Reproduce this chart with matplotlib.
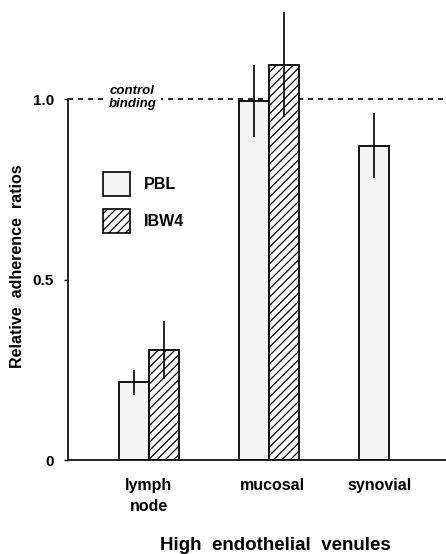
import matplotlib.pyplot as plt
from matplotlib.patches import Patch

groups = ['lymph\nnode', 'mucosal', 'synovial']
pbl = [0.215, 0.995, 0.87]
pbl_err = [0.035, 0.10, 0.09]
ibw4 = [0.305, 1.095]
ibw4_err = [0.08, 0.145]

plt.rcParams['font.family'] = ['Liberation Sans', 'DejaVu Sans']
plt.rcParams['hatch.linewidth'] = 0.9

fig = plt.figure(figsize=(4.46, 5.54), dpi=100)
ax = fig.add_axes([68 / 446, 94 / 554, 378 / 446, 458 / 554])

centers = [0, 4, 7.5]
w = 1.0
pbl_x = [c - w / 2 if i < len(ibw4) else c for i, c in enumerate(centers)]
ibw4_x = [c + w / 2 for c in centers[:len(ibw4)]]

ax.bar(pbl_x, pbl, width=w, color='#f4f4f4', edgecolor='black', linewidth=1.3, zorder=2)
ax.bar(ibw4_x, ibw4, width=w, color='white', edgecolor='black', linewidth=1.3,
       hatch='////', zorder=2)
ax.errorbar(pbl_x, pbl, yerr=pbl_err, fmt='none', ecolor='black', elinewidth=1.2,
            capsize=0, zorder=3)
ax.errorbar(ibw4_x, ibw4, yerr=ibw4_err, fmt='none', ecolor='black', elinewidth=1.2,
            capsize=0, zorder=3)

ax.axhline(1.0, color='black', linestyle=(0, (3, 3)), linewidth=1.2, zorder=1)
ax.text(-0.55, 1.004, 'control\nbinding', ha='center', va='center', fontsize=9.5,
        fontstyle='italic', fontweight='bold', linespacing=1.15, zorder=4,
        bbox=dict(facecolor='white', edgecolor='none', pad=3))

ax.set_xlim(-2.7, 9.9)
ax.set_ylim(0, 458 / 361)
ax.set_xticks([0, 4.1, 7.7])
ax.set_xticklabels(groups, fontsize=11.5, fontweight='bold', linespacing=1.5)
ax.set_yticks([0, 0.5, 1.0])
ax.set_yticklabels(['0', '0.5', '1.0'], fontsize=11, fontweight='bold')
ax.tick_params(axis='x', length=0, pad=13)
ax.tick_params(axis='y', length=3, width=1, pad=7)

for s in ['top', 'right']:
    ax.spines[s].set_visible(False)
ax.spines['left'].set_bounds(0, 1.0)
ax.spines['left'].set_linewidth(1.2)
ax.spines['bottom'].set_linewidth(1.2)

ax.set_ylabel('Relative  adherence  ratios', fontsize=11.5, fontweight='bold')
ax.yaxis.set_label_coords(-0.115, 0.424)

fig.text(275 / 446, 1 - 545 / 554, 'High  endothelial  venules', ha='center', va='center',
         fontsize=13.5, fontweight='bold')

handles = [Patch(facecolor='#f4f4f4', edgecolor='black', linewidth=1.2),
           Patch(facecolor='white', edgecolor='black', linewidth=1.2, hatch='////')]
leg = ax.legend(handles, ['PBL', 'IBW4'], loc='upper left',
                bbox_to_anchor=(103 / 446, 1 - 172 / 554), bbox_transform=fig.transFigure,
                frameon=False, borderpad=0, borderaxespad=0, handlelength=1.7,
                handleheight=1.95, labelspacing=0.8, handletextpad=0.85,
                prop={'size': 11.5, 'weight': 'bold'})

fig.savefig('out.png', dpi=100)
